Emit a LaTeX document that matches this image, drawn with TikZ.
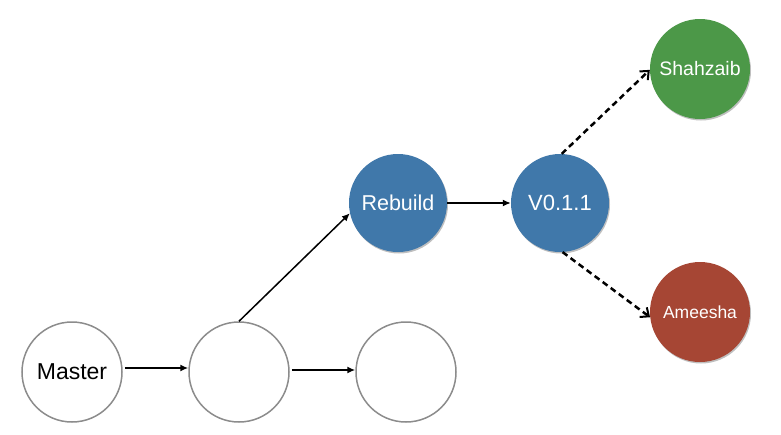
\documentclass[tikz,border=0pt]{standalone}
\usepackage{fontspec}
\setmainfont{Liberation Sans}
\usetikzlibrary{arrows.meta,shadows}
\definecolor{nodeblue}{RGB}{64,120,170}
\definecolor{nodegreen}{RGB}{76,152,72}
\definecolor{nodered}{RGB}{166,70,52}
\definecolor{ringgray}{RGB}{140,140,140}
\tikzset{
  plain/.style={circle,draw=ringgray,line width=1.5pt,fill=white,minimum size=100pt,inner sep=0pt},
  filled/.style={circle,minimum size=98pt,inner sep=0pt,text=white,
    drop shadow={shadow xshift=1pt,shadow yshift=-1.5pt,fill=black,opacity=0.25}},
  solidarrow/.style={-{Latex[length=8pt,width=7pt]},line width=1.5pt},
  dasharrow/.style={-{Straight Barb[length=7pt,width=12pt,line width=2pt]},line width=2.5pt,dash pattern=on 6pt off 4pt}
}
\begin{document}
\begin{tikzpicture}[x=1pt,y=-1pt]
\useasboundingbox (0,0) rectangle (781,434);
\node[plain,font=\fontsize{23}{26}\selectfont] (master) at (72,372) {Master};
\node[plain] (c2) at (239,372) {};
\node[plain] (c3) at (406,372) {};
\node[filled,fill=nodeblue,font=\fontsize{21.5}{24}\selectfont] (rebuild) at (398,203) {Rebuild};
\node[filled,fill=nodeblue,font=\fontsize{22}{25}\selectfont] (v011) at (560,203) {V0.1.1};
\node[filled,fill=nodegreen,minimum size=100pt,font=\fontsize{19.5}{22}\selectfont] (shah) at (700,69) {Shahzaib};
\node[filled,fill=nodered,minimum size=100pt,font=\fontsize{17.5}{20}\selectfont] (ameesha) at (700,312) {Ameesha};
\draw[solidarrow] (master.east) ++(2,-4) coordinate (m1) -- (c2.west |- m1);
\draw[solidarrow] (c2.east) ++(2,-2) coordinate (m2) -- (c3.west |- m2);
\draw[solidarrow] (c2.north) -- (rebuild.192);
\draw[solidarrow] (rebuild.east) -- (v011.west);
\draw[dasharrow] (v011.88) -- (shah.181);
\draw[dasharrow] (v011.-87) -- (ameesha.186);
\end{tikzpicture}
\end{document}
